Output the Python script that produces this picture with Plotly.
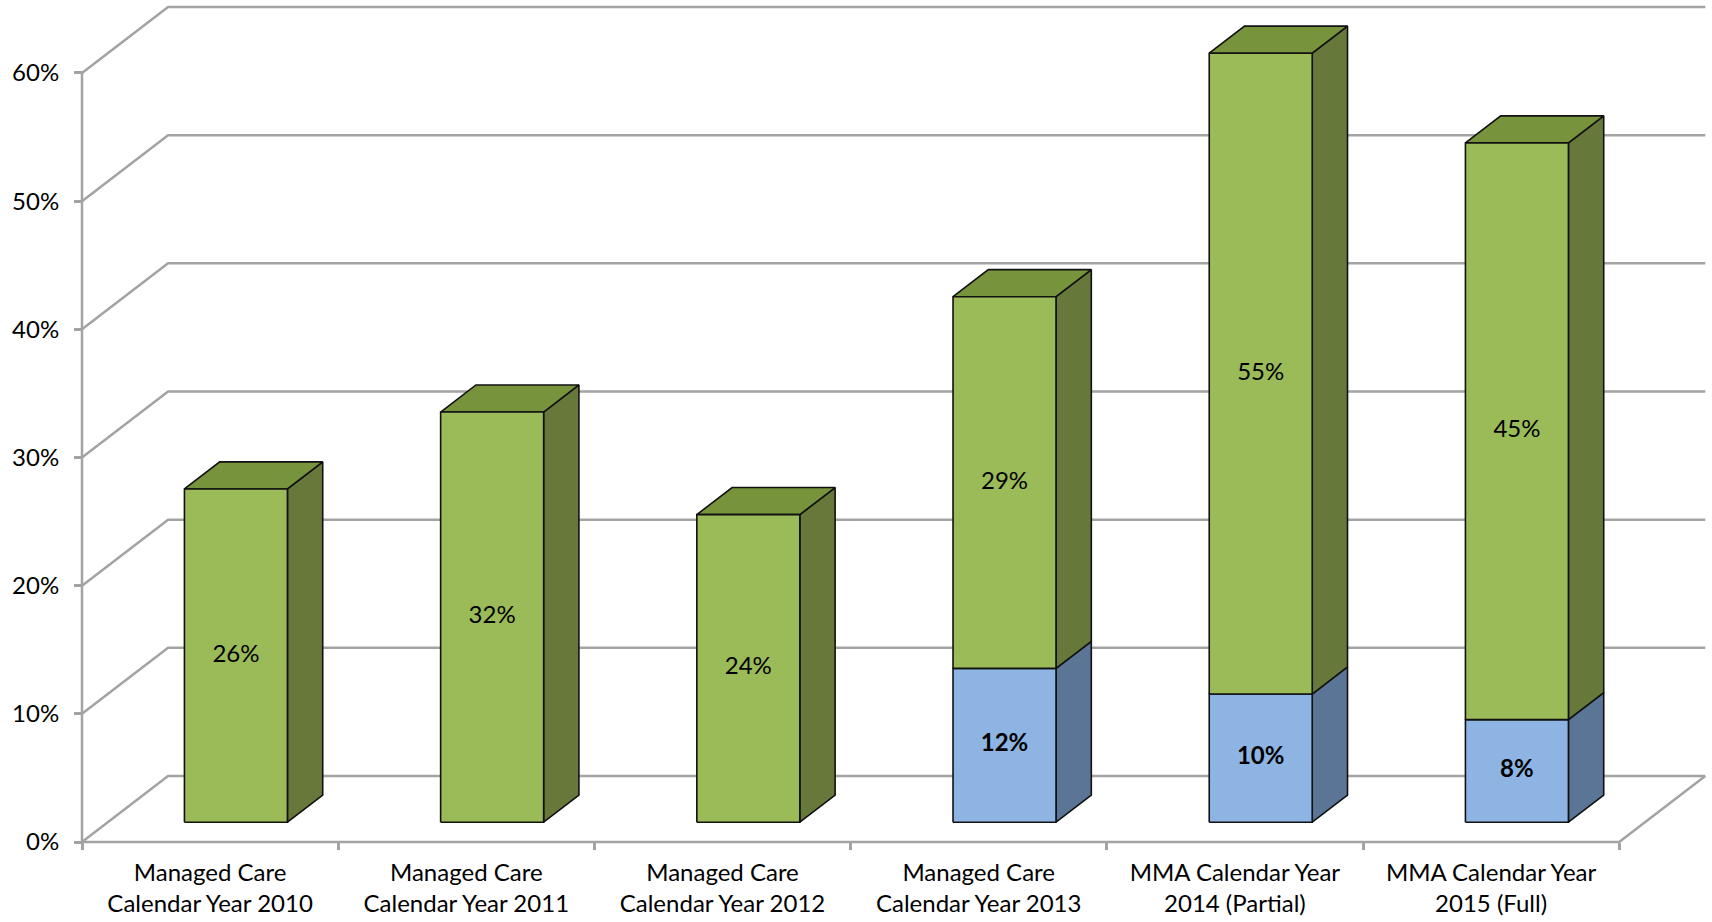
import plotly.graph_objects as go

# ---- data ----
categories = [
    "Managed Care<br>Calendar Year 2010",
    "Managed Care<br>Calendar Year 2011",
    "Managed Care<br>Calendar Year 2012",
    "Managed Care<br>Calendar Year 2013",
    "MMA Calendar Year<br>2014 (Partial)",
    "MMA Calendar Year<br>2015 (Full)",
]
blue_values = [0, 0, 0, 12, 10, 8]
green_values = [26, 32, 24, 29, 55, 45]
y_ticks = [0, 10, 20, 30, 40, 50, 60]
y_max = 60

# ---- 3D projection settings ----
DX, DY = 0.336, 5.15        # depth vector in data units
F, B = 0.30, 0.71           # bar front/back depth fractions
W = 0.402                   # bar width (category units)
FONT = "Lato"
FS = 24
GRID = "#A3A3A3"

GREEN = dict(front="#9BBB59", side="#66793A", top="#77933C")
BLUE = dict(front="#8DB4E2", side="#5B7596", top="#6F8FB8")

n = len(categories)
fig = go.Figure()

# walls / gridlines
gx, gy = [], []
for v in y_ticks:
    gx += [-0.5, -0.5 + DX, n - 0.5 + DX, None]
    gy += [v, v + DY, v + DY, None]
# floor front edge + right edge, y-axis line
gx += [-0.5, n - 0.5, n - 0.5 + DX, None, -0.5, -0.5, None]
gy += [0, 0, DY, None, 0, y_max, None]
fig.add_trace(go.Scatter(x=gx, y=gy, mode="lines", line=dict(color=GRID, width=2.5),
                         hoverinfo="skip", showlegend=False))


def add_poly(polys, color):
    xs, ys = [], []
    for p in polys:
        for (a, b) in p:
            xs.append(a)
            ys.append(b)
        xs.append(p[0][0]); ys.append(p[0][1])
        xs.append(None); ys.append(None)
    fig.add_trace(go.Scatter(x=xs, y=ys, mode="lines", fill="toself", fillcolor=color,
                             line=dict(color="#111111", width=1.6),
                             hoverinfo="skip", showlegend=False))


series = [(blue_values, BLUE, True), (green_values, GREEN, False)]
base = [0.0] * n
faces = {}
labels = []
for si, (vals, col, bold) in enumerate(series):
    for i in range(n):
        v = vals[i]
        if v <= 0:
            continue
        b0 = min(base[i], y_max)
        b1 = min(base[i] + v, y_max)
        base[i] += v
        xl_f = i - W / 2 + F * DX
        xr_f = i + W / 2 + F * DX
        xl_b = i - W / 2 + B * DX
        xr_b = i + W / 2 + B * DX
        front = [(xl_f, b0 + F * DY), (xr_f, b0 + F * DY), (xr_f, b1 + F * DY), (xl_f, b1 + F * DY)]
        side = [(xr_f, b0 + F * DY), (xr_b, b0 + B * DY), (xr_b, b1 + B * DY), (xr_f, b1 + F * DY)]
        top = [(xl_f, b1 + F * DY), (xr_f, b1 + F * DY), (xr_b, b1 + B * DY), (xl_b, b1 + B * DY)]
        faces.setdefault((si, "side"), []).append(side)
        faces.setdefault((si, "front"), []).append(front)
        is_top = all(series[sj][0][i] <= 0 for sj in range(si + 1, len(series)))
        if is_top:
            faces.setdefault((si, "top"), []).append(top)
        txt = f"{v}%"
        labels.append((i + F * DX, (b0 + b1) / 2 + F * DY, f"<b>{txt}</b>" if bold else txt))

for si, (vals, col, bold) in enumerate(series):
    for face in ("side", "top", "front"):
        if (si, face) in faces:
            add_poly(faces[(si, face)], col[face])

fig.add_trace(go.Scatter(x=[l[0] for l in labels], y=[l[1] for l in labels],
                         text=[l[2] for l in labels], mode="text",
                         textfont=dict(family=FONT, size=FS, color="#000000"),
                         hoverinfo="skip", showlegend=False))

# ---- layout ----
PXX, PXY = 256.2, 12.817
ml, mr, mt, mb = 72, 2, 2, 70
pw, ph = 1712 - ml - mr, 922 - mt - mb
x0 = -0.5 - 10 / PXX
y0 = -10 / PXY

fig.update_layout(
    width=1712, height=922,
    margin=dict(l=ml, r=mr, t=mt, b=mb),
    plot_bgcolor="white", paper_bgcolor="white",
    font=dict(family=FONT, size=FS, color="#000000"),
    xaxis=dict(range=[x0, x0 + pw / PXX], tickvals=list(range(n)), ticktext=categories,
               showgrid=False, zeroline=False, showline=False, ticks="",
               anchor="free", position=10 / ph, ticklabelstandoff=14,
               minor=dict(tickvals=[i - 0.5 for i in range(n + 1)], ticks="outside",
                          ticklen=7, tickcolor=GRID, tickwidth=2.5, showgrid=False),
               tickfont=dict(family=FONT, size=FS)),
    yaxis=dict(range=[y0, y0 + ph / PXY], tickvals=y_ticks,
               ticktext=[f"{v}%" for v in y_ticks],
               showgrid=False, zeroline=False, showline=False,
               ticks="outside", ticklen=8, tickcolor=GRID, tickwidth=2.5,
               anchor="free", position=10 / pw, ticklabelstandoff=10,
               tickfont=dict(family=FONT, size=FS)),
)

fig.write_html("out.html")
